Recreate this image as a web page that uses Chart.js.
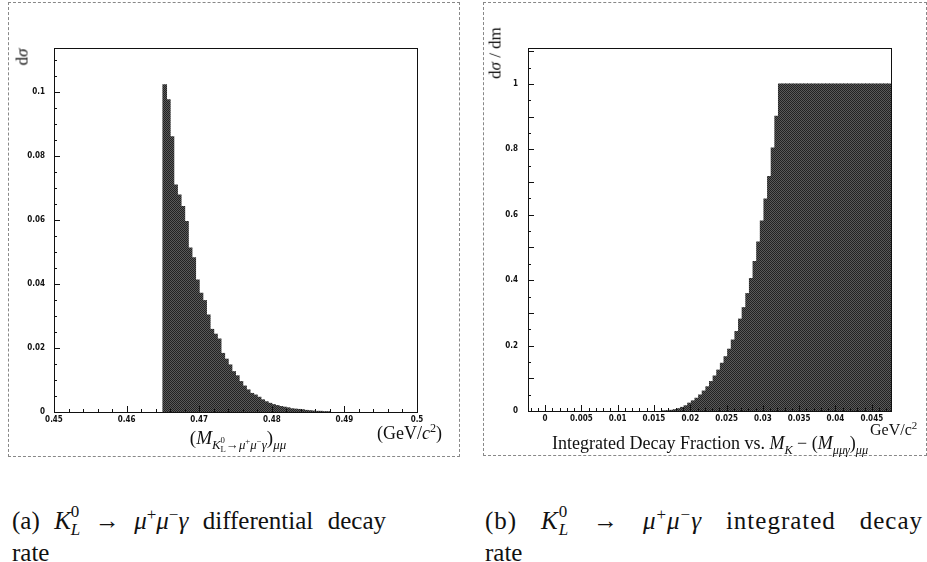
<!DOCTYPE html>
<html>
<head>
<meta charset="utf-8">
<title>K_L -> mu+ mu- gamma decay rate</title>
<script src="https://cdn.jsdelivr.net/npm/chart.js"></script>
<style>
    body {
        margin: 0;
        background: #fff;
        font-family: 'Liberation Serif', 'DejaVu Serif', serif;
        color: #111;
    }
    #page {
        position: relative;
        width: 927px;
        height: 562px;
        overflow: hidden;
    }
    .panel {
        position: absolute;
        border: 1px dashed #888;
    }
    canvas {
        position: absolute;
    }
    .lbl {
        position: absolute;
        white-space: nowrap;
        line-height: 1;
    }
    .ss {
        display: inline-block;
        vertical-align: -0.35em;
        font-size: 0.68em;
        line-height: 1.05;
        text-align: left;
    }
    .caption {
        position: absolute;
        font-size: 25px;
        line-height: 27px;
        white-space: nowrap;
    }
    .caption .just {
        text-align: justify;
        text-align-last: justify;
    }
    .caption .wide {
        letter-spacing: 1px;
    }
    sup, sub { font-size: 0.68em; line-height: 0; }
</style>
</head>
<body>
<div id="page">
    <div class="panel" style="left:8px; top:2px; width:450px; height:453px;"></div>
    <div class="panel" style="left:483px; top:2px; width:442px; height:452px;"></div>

    <canvas id="diffChart" width="460" height="470" style="left:0; top:0;"></canvas>
    <canvas id="intChart" width="465" height="470" style="left:462px; top:0;"></canvas>

    <!-- axis titles -->
    <div class="lbl" style="left:22px; top:57px; font-size:17px; transform:translate(-50%,-50%) rotate(-90deg);">d<i>σ</i></div>
    <div class="lbl" style="left:238px; top:441px; font-size:19px; transform:translate(-50%,-50%);">
        (<i>M</i><sub><i>K</i><span class="ss">0<br>L</span>→<i>μ</i><sup>+</sup><i>μ</i><sup>−</sup><i>γ</i></sub>)<sub><i>μμ</i></sub>
    </div>
    <div class="lbl" style="left:377px; top:424px; font-size:18px;">(GeV/<i>c</i><sup>2</sup>)</div>

    <div class="lbl" style="left:495px; top:53px; font-size:17px; transform:translate(-50%,-50%) rotate(-90deg);">d<i>σ</i> / dm</div>
    <div class="lbl" style="left:552px; top:434px; font-size:18px;">
        Integrated Decay Fraction vs. <i>M</i><sub><i>K</i></sub> − (<i>M</i><sub><i>μμγ</i></sub>)<sub><i>μμ</i></sub>
    </div>
    <div class="lbl" style="left:870px; top:422px; font-size:16px;">GeV/c<sup>2</sup></div>

    <!-- captions -->
    <div class="caption" style="left:12px; top:503px; width:374px;">
        <div class="just">(a) <i>K</i><span class="ss">0<br><i>L</i></span> → <i>μ</i><sup>+</sup><i>μ</i><sup>−</sup><i>γ</i> differential decay</div>
        <div>rate</div>
    </div>
    <div class="caption" style="left:485px; top:503px; width:438px;">
        <div class="just wide">(b) <i>K</i><span class="ss">0<br><i>L</i></span> → <i>μ</i><sup>+</sup><i>μ</i><sup>−</sup><i>γ</i> integrated decay</div>
        <div>rate</div>
    </div>
</div>

<script>
    // histogram bins are 0.0005 GeV/c^2 wide
    const binWidth = 0.0005;

    // (a) differential decay rate, first filled bin starts at 0.465
    const diffStart = 0.465;
    const diffRate = [
        0.1022, 0.0975, 0.0860, 0.0709, 0.0678, 0.0642, 0.0595, 0.0512, 0.0482, 0.0412,
        0.0371, 0.0348, 0.0303, 0.0258, 0.0243, 0.0228, 0.0183, 0.0165, 0.0147, 0.0126,
        0.0113, 0.0095, 0.0081, 0.0069, 0.0058, 0.0053, 0.0046, 0.0038, 0.0032, 0.0027,
        0.0023, 0.0020, 0.0017, 0.0015, 0.0013, 0.0010, 0.0009, 0.0008, 0.0007, 0.0005,
        0.0004, 0.0003, 0.0002, 0.0002, 0.0001, 0.0001
    ];
    const diffXTicks = [0.45, 0.46, 0.47, 0.48, 0.49, 0.5];
    const diffYTicks = [0, 0.02, 0.04, 0.06, 0.08, 0.1];

    // (b) integrated fraction vs M_K - M, first non-empty bin starts at 0.01615
    const intStart = 0.01615;
    const intFraction = [
        0.0005, 0.001, 0.002, 0.004, 0.007, 0.011, 0.016, 0.024, 0.031, 0.039,
        0.049, 0.061, 0.074, 0.090, 0.107, 0.125, 0.146, 0.166, 0.189, 0.217,
        0.243, 0.281, 0.316, 0.359, 0.405, 0.457, 0.517, 0.581, 0.648, 0.717,
        0.804, 0.901,
        1, 1, 1, 1, 1, 1, 1, 1, 1, 1,
        1, 1, 1, 1, 1, 1, 1, 1, 1, 1,
        1, 1, 1, 1, 1, 1, 1, 1, 1, 1, 1
    ];
    const intXTicks = [0, 0.005, 0.01, 0.015, 0.02, 0.025, 0.03, 0.035, 0.04, 0.045];
    const intYTicks = [0, 0.2, 0.4, 0.6, 0.8, 1];

    const tickFont = {
        family: "'Liberation Sans Narrow', 'DejaVu Sans Condensed', 'Liberation Sans', sans-serif",
        size: 8,
        weight: 'bold'
    };

    // grey dither like the printed fill
    function ditherFill() {
        const c = document.createElement('canvas');
        c.width = 2;
        c.height = 2;
        const g = c.getContext('2d');
        g.fillStyle = '#5a5a5a';
        g.fillRect(0, 0, 2, 2);
        g.fillStyle = '#222';
        g.fillRect(0, 0, 1, 1);
        g.fillRect(1, 1, 1, 1);
        return g.createPattern(c, 'repeat');
    }

    // frame around the plot and ROOT style ticks pointing inwards
    const frameTicks = {
        id: 'frameTicks',
        afterDatasetsDraw(chart, args, opts) {
            const ctx = chart.ctx;
            const a = chart.chartArea;
            ctx.save();
            ctx.strokeStyle = '#111';
            ctx.lineWidth = 1;
            ctx.strokeRect(Math.round(a.left) + 0.5, Math.round(a.top) + 0.5,
                Math.round(a.right - a.left), Math.round(a.bottom - a.top));

            const xs = chart.scales.x, ys = chart.scales.y;
            ctx.beginPath();
            let i0 = Math.ceil(xs.min / opts.xMinor - 1e-6), i1 = Math.floor(xs.max / opts.xMinor + 1e-6);
            for (let i = i0; i <= i1; i++) {
                const px = Math.round(xs.getPixelForValue(i * opts.xMinor)) + 0.5;
                const len = (i % opts.xEvery === 0) ? 6 : 3;
                ctx.moveTo(px, a.bottom);
                ctx.lineTo(px, a.bottom - len);
            }
            i0 = Math.ceil(ys.min / opts.yMinor - 1e-6);
            i1 = Math.floor(ys.max / opts.yMinor + 1e-6);
            for (let i = i0; i <= i1; i++) {
                const py = Math.round(ys.getPixelForValue(i * opts.yMinor)) + 0.5;
                const len = (i % opts.yEvery === 0) ? 6 : 3;
                ctx.moveTo(a.left, py);
                ctx.lineTo(a.left + len, py);
            }
            ctx.stroke();
            ctx.restore();
        }
    };

    const fmt = v => String(+Number(v).toFixed(4));

    function histChart(id, start, values, o) {
        const points = values.map((v, i) => ({ x: start + (i + 0.5) * binWidth, y: v }));
        return new Chart(document.getElementById(id), {
            type: 'bar',
            data: {
                datasets: [{
                    data: points,
                    backgroundColor: ditherFill(),
                    borderWidth: 0,
                    barPercentage: 1,
                    categoryPercentage: 1,
                    inflateAmount: 0.5
                }]
            },
            options: {
                responsive: false,
                animation: false,
                events: [],
                layout: { padding: o.pad },
                plugins: {
                    legend: { display: false },
                    tooltip: { enabled: false },
                    frameTicks: o.ticks
                },
                scales: {
                    x: {
                        type: 'linear',
                        min: o.xMin,
                        max: o.xMax,
                        offset: false,
                        grid: { display: false, drawTicks: false, offset: false },
                        border: { display: false },
                        afterFit: s => { s.height = 20; },
                        afterBuildTicks: s => { s.ticks = o.xTicks.map(v => ({ value: v })); },
                        ticks: { padding: 3, font: tickFont, color: '#111', callback: fmt, autoSkip: false, maxRotation: 0 }
                    },
                    y: {
                        min: 0,
                        max: o.yMax,
                        grid: { display: false, drawTicks: false },
                        border: { display: false },
                        afterFit: s => { s.width = o.yWidth; },
                        afterBuildTicks: s => { s.ticks = o.yTicks.map(v => ({ value: v })); },
                        ticks: { padding: o.yPad, font: tickFont, color: '#111', callback: fmt }
                    }
                }
            },
            plugins: [frameTicks]
        });
    }

    histChart('diffChart', diffStart, diffRate, {
        xMin: 0.45, xMax: 0.5, yMax: 0.1137,
        xTicks: diffXTicks, yTicks: diffYTicks,
        yWidth: 54, yPad: 9,
        pad: { left: 0, right: 43, top: 48, bottom: 38 },
        ticks: { xMinor: 0.002, xEvery: 5, yMinor: 0.005, yEvery: 4 }
    });

    histChart('intChart', intStart, intFraction, {
        xMin: -0.00235, xMax: 0.04765, yMax: 1.11,
        xTicks: intXTicks, yTicks: intYTicks,
        yWidth: 66, yPad: 10,
        pad: { left: 0, right: 36, top: 48, bottom: 39 },
        ticks: { xMinor: 0.001, xEvery: 5, yMinor: 0.05, yEvery: 2 }
    });
</script>
</body>
</html>
